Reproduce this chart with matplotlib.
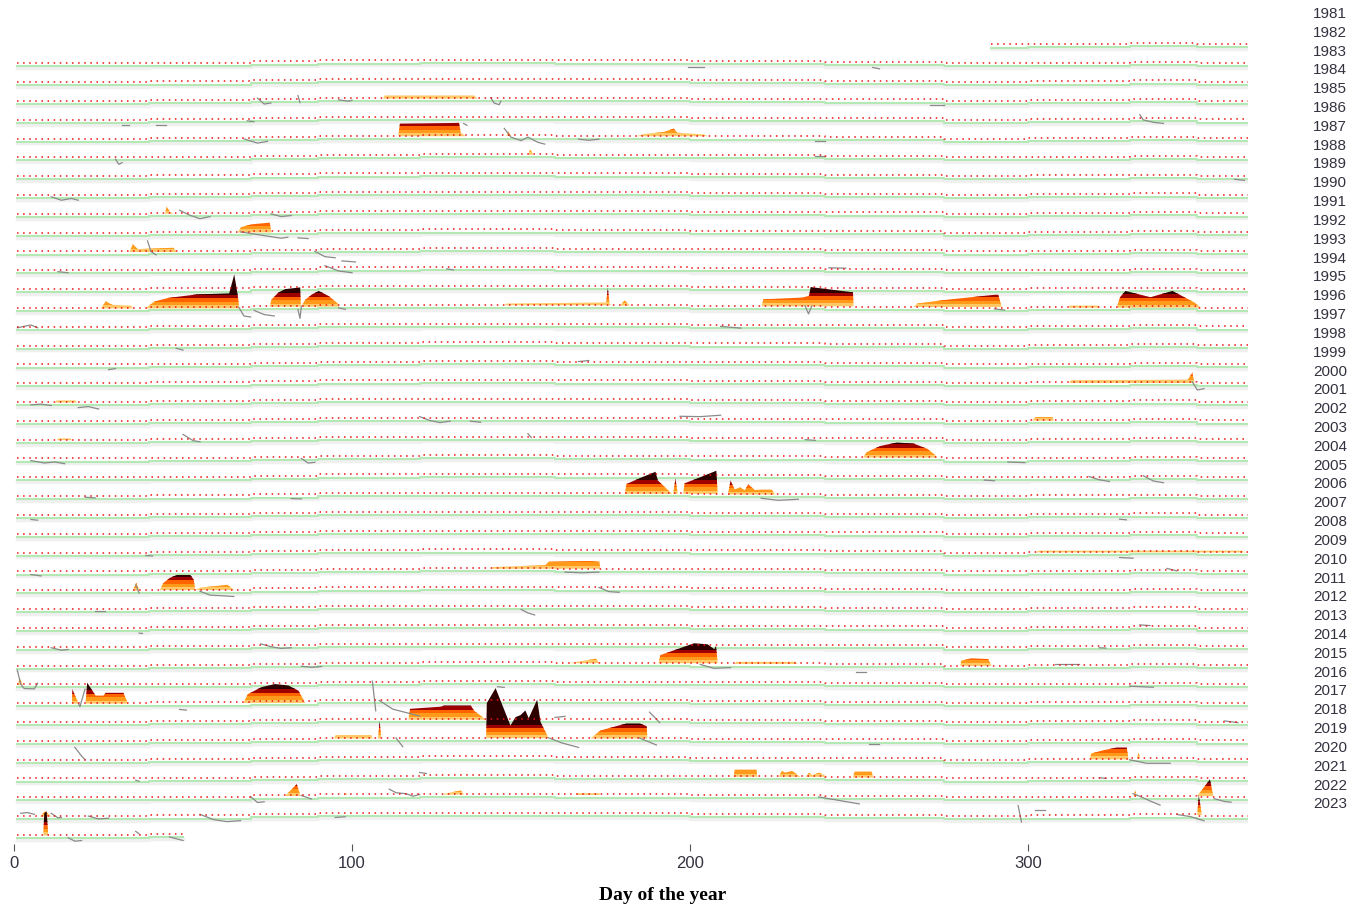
import numpy as np
import matplotlib.pyplot as plt
from matplotlib.patches import Rectangle

# Years shown, one row each (top = 1981)
YEARS = list(range(1981, 2024))
PARTIAL = {1981: (289, 365), 2023: (1, 50)}

# seasonal step profile of the threshold (deg above the row baseline)
PROF_DAY = [1, 40, 70, 90, 120, 160, 200, 240, 275, 300, 330, 350]
PROF_THR = [0.0, 0.2, 0.5, 0.8, 0.9, 0.8, 0.6, 0.4, 0.0, 0.2, 0.45, 0.1]
CLIM_GAP = 0.9

# heatwave events: year, [(day, anomaly above threshold)]
EVENTS = [
    (1984, [(109, 0), (109.5, 0.8), (136, 0.8), (137, 0)]),
    (1986, [(113.5, 0), (114, 3.6), (131.5, 3.8), (132, 1), (133.5, 0)]),
    (1986, [(184, 0), (186, 0.6), (192, 1.2), (195, 2.2), (196, 1), (204, 0.5), (205, 0)]),
    (1986, [(145.5, 0), (146, 1.3), (147, 0)]),
    (1987, [(152, 0), (152.5, 1.5), (153.5, 0)]),
    (1990, [(44.5, 0), (45, 2), (46, 0.5), (47, 0)]),
    (1991, [(66, 0), (67, 1.5), (70, 2.3), (75.5, 2.8), (76, 0)]),
    (1992, [(34, 0), (35, 2.2), (36.5, 0.8), (47, 1.2), (48, 0)]),
    (1995, [(25.5, 0), (27, 2), (29, 1), (34.5, 0.8), (35, 0)]),
    (1995, [(38.7, 0), (40, 1), (41.5, 2), (45.5, 3), (54, 4), (63.5, 4.3), (65, 9.7), (66, 4), (66.5, 0)]),
    (1995, [(75.5, 0), (76, 2), (77, 3), (78, 4), (80, 5), (84.5, 5.5), (84.7, 0)]),
    (1995, [(84.8, 0), (86, 2), (88, 3.5), (90, 4.5), (93, 3), (95.5, 1), (96, 0)]),
    (1995, [(145, 0), (145.5, 0.5), (175, 0.8), (175.5, 5), (176, 0.5), (176.5, 0)]),
    (1995, [(179, 0), (180.5, 1.5), (182, 0)]),
    (1995, [(221, 0), (221.5, 2), (233, 2.5), (235, 3), (235.5, 5.5), (248, 4), (248.2, 0)]),
    (1995, [(266, 0), (267, 1), (275, 2), (290, 3.5), (291, 3.5), (292, 0)]),
    (1995, [(311.8, 0), (312, 0.6), (320.6, 0.6), (321, 0)]),
    (1995, [(326, 0), (327, 3), (328.6, 4.8), (336, 3), (342.5, 4.8), (349, 1.5), (351, 0)]),
    (1999, [(312, 0), (312.5, 0.8), (347, 0.9), (348.4, 3), (349, 0)]),
    (2000, [(12, 0), (12.5, 0.6), (18, 0.6), (18.5, 0)]),
    (2001, [(301, 0), (302, 1), (307, 1), (307.5, 0)]),
    (2002, [(12.5, 0), (13, 0.5), (16.5, 0.5), (17, 0)]),
    (2003, [(251, 0), (252, 1.5), (256, 3.3), (261, 4.3), (266, 4), (270, 2.5), (272, 1), (273, 0)]),
    (2005, [(180.5, 0), (181, 2.8), (185, 4.5), (189.6, 6.3), (190.3, 3.8), (194.5, 0)]),
    (2005, [(194.8, 0), (195.5, 4.3), (196.2, 0)]),
    (2005, [(197.8, 0), (198.2, 3), (203, 4.8), (207.6, 6.6), (208, 0)]),
    (2005, [(211, 0), (211.8, 4), (213, 1.5), (214.7, 2), (216, 1.2), (217, 2.9), (219, 1.3),
            (221, 1.4), (224, 1.4), (225, 0)]),
    (2008, [(302, 0), (303, 0.5), (363, 0.5), (364, 0)]),
    (2009, [(141, 0), (141.5, 0.5), (157, 1), (158, 2), (170, 2.2), (173, 2), (173.3, 0)]),
    (2010, [(35, 0), (36, 2.3), (37, 0)]),
    (2010, [(43, 0), (44, 2), (46, 3.5), (48, 4.3), (52, 4.3), (53, 3), (53.5, 0)]),
    (2010, [(53.5, 0), (55, 0.7), (63, 1.5), (65, 0)]),
    (2014, [(190.5, 0), (191, 2.3), (196, 4), (201, 5.7), (205, 5.4), (207, 4), (207.5, 5), (208, 0)]),
    (2014, [(164, 0), (172, 1.3), (173, 0)]),
    (2014, [(213, 0), (213.5, 0.6), (231, 0.6), (231.6, 0)]),
    (2014, [(279.8, 0), (280, 1.5), (283, 2.2), (288, 2), (289, 0)]),
    (2015, [(1, 0), (1.5, 2), (2.5, 0)]),
    (2016, [(17, 0), (17.1, 4.1), (19, 0)]),
    (2016, [(21, 0), (21.5, 6), (24, 2.3), (26.3, 2.3), (27, 3.1), (32.2, 3.1), (33.6, 0)]),
    (2016, [(67.7, 0), (69, 2.5), (73, 4.5), (77, 5.4), (81, 5), (84, 3.5), (86, 0)]),
    (2017, [(116.5, 0), (117, 3.1), (126, 3.7), (127, 4), (135, 4), (136, 2.5), (139.5, 0)]),
    (2018, [(139.5, 0), (139.7, 10), (142.3, 14.3), (146.7, 3.6), (148.2, 6), (149.7, 6.6),
            (151.1, 7.9), (152.1, 5.7), (154.6, 11), (155.6, 4.6), (158, 0)]),
    (2018, [(94.5, 0), (95, 1), (105.5, 1), (106, 0)]),
    (2018, [(107.5, 0), (108, 5), (108.5, 0)]),
    (2018, [(170.4, 0), (173.3, 2.3), (176, 3), (181, 4.3), (185, 4.3), (187, 3.5), (187.2, 0)]),
    (2019, [(318, 0), (318.5, 1.7), (322, 2.6), (326, 3.4), (329, 3.4), (329.5, 0)]),
    (2019, [(332, 0), (332.5, 1.7), (333, 0)]),
    (2020, [(212.7, 0), (213, 2), (219.5, 2), (219.7, 0)]),
    (2020, [(226, 0), (227, 1.7), (228, 1.2), (230, 1.7), (232.5, 0)]),
    (2020, [(234, 0), (235, 1.2), (236, 0.5), (238, 1.2), (240.5, 0)]),
    (2020, [(248, 0), (248.5, 1.7), (253.5, 1.7), (254, 0)]),
    (2021, [(80, 0), (83.5, 3.4), (84.6, 0)]),
    (2021, [(97.5, 0), (98, 0.6), (98.5, 0)]),
    (2021, [(126, 0), (132, 1.2), (133, 0)]),
    (2021, [(166, 0), (166.5, 0.5), (173, 0.5), (173.3, 0)]),
    (2021, [(331, 0), (331.5, 1.7), (332, 0)]),
    (2021, [(349.8, 0), (353.6, 4.8), (354.6, 0)]),
    (2022, [(349.8, 0), (350.3, 5.7), (351.2, 0)]),
    (2022, [(7.5, 0), (9, 1.5), (11, 0)]),
    (2023, [(8.5, 0), (8.8, 6.3), (9.5, 6.9), (10, 0)]),
]

# stretches of the temperature line that leave the threshold/climatology lines
TEMP_BITS = [
    (1982, [(199.5, -1.9), (204, -1.9)]), (1982, [(254, -1.6), (256, -2)]),
    (1984, [(72, 0.3), (74, -1.4), (76, -1.1)]), (1984, [(84, 1), (84.6, -1)]),
    (1984, [(96, -0.5), (99, -0.9), (100, -0.6)]), (1984, [(141, 0), (142, -1.5), (143.5, -2), (144, -1)]),
    (1984, [(271, -1.5), (275, -1.5)]),
    (1985, [(333, 1), (334, -0.5), (337, -1.2), (340, -1.5)]), (1985, [(32, -1.5), (34, -1.5)]),
    (1985, [(42, -1.8), (45, -1.8)]), (1985, [(69, -0.5), (71, -0.8)]), (1985, [(133, -2), (134, -2.5)]),
    (1986, [(145, 2), (147, -0.5), (150, -1.5), (152, -0.5), (155, -2), (157, -2.5)]),
    (1986, [(68, -0.3), (72, -1.5), (75, -1)]), (1986, [(167, -1), (170, -1.3), (173, -1)]),
    (1986, [(237, -1.3), (240, -1.3)]),
    (1987, [(30, -0.5), (31, -2), (32, -1.5)]), (1987, [(237, -0.3), (240, -0.3)]),
    (1988, [(361, -1), (364, -1.3)]),
    (1989, [(11, -0.5), (14, -1.5), (17, -1), (19, -1.5)]),
    (1990, [(49, 0.8), (52, -0.6), (55, -1.6), (58, -1)]), (1990, [(76, -0.5), (79, -1.3), (82, -1)]),
    (1991, [(67, 0), (71, -0.6), (75, -1.2), (79, -1.8), (81, -1.5)]), (1991, [(84, -2), (87, -2.2)]),
    (1992, [(39.5, 3), (40.5, 0), (42, -1)]), (1992, [(89, -0.5), (92, -2), (95, -2.3)]),
    (1992, [(97, -3.5), (101, -3.8)]),
    (1993, [(13, -0.4), (16, -0.7)]), (1993, [(92, 0.5), (96, -1), (100, -1.5)]),
    (1993, [(128, -0.5), (130, -0.8)]), (1993, [(241, 0.3), (246, 0.2)]),
    (1995, [(66.5, 0), (68, -2.5), (70, -2.8)]), (1995, [(71, -1.2), (74, -2.4), (77, -2.8)]),
    (1995, [(84, -1), (84.6, -3.5), (85, 0)]), (1995, [(96, -0.8), (98, -1.2)]),
    (1995, [(234, 0), (235, -2.3), (236, 0)]), (1995, [(290, -0.3), (293, -0.6)]),
    (1996, [(1, -0.3), (5, 0.5), (7, -0.3)]), (1996, [(209, -0.5), (215, -1)]),
    (1997, [(48, -1), (50, -1.5)]),
    (1998, [(28, -1.5), (30, -1.2)]), (1998, [(167, 0), (170, 0.3)]),
    (1999, [(348.5, 0), (350, -2.4), (352, -2)]),
    (2000, [(5, -0.8), (8, -0.6), (11, -1)]), (2000, [(19, -1.6), (22, -1.3), (25, -2)]),
    (2001, [(120, 0.3), (123, -0.8), (126, -1.4), (129, -1)]), (2001, [(135, -1), (138, -1.3)]),
    (2001, [(197, 0.5), (203, 0.4), (209, 0.8)]),
    (2002, [(50, 1.3), (53, -0.5), (55, -0.8)]), (2002, [(152, 0.8), (153, -0.3)]),
    (2002, [(234, -0.6), (237, -0.8)]),
    (2003, [(5, -0.6), (9, -1.3), (12, -1), (15, -1.5)]), (2003, [(85, -0.5), (87, -1.8), (89, -1.6)]),
    (2003, [(294, -1), (299, -1.2)]),
    (2004, [(287, -0.8), (290, -1)]), (2004, [(318, 0), (321, -0.9), (324, -1.4)]),
    (2004, [(334, 0), (337, -1.5), (340, -2)]),
    (2005, [(21, -0.3), (24, -0.5)]), (2005, [(82, -1.2), (85, -1.3)]),
    (2005, [(221, -1.2), (226, -1.8), (232, -1.5)]),
    (2006, [(5, -1.3), (7, -1.5)]), (2006, [(327, -1.4), (329, -1.6)]),
    (2008, [(39, -0.8), (41, -1)]), (2008, [(327, -1.6), (331, -1.8)]),
    (2009, [(5, -0.9), (8, -1.3)]), (2009, [(163, -1), (168, -1.2), (173, -1)]),
    (2009, [(341, 0.4), (344, -0.3)]),
    (2010, [(36, 1.5), (37, -0.8)]), (2010, [(55, -0.5), (58, -1.6), (62, -1.8), (65, -2)]),
    (2010, [(173, 0), (176, -1.2), (179, -1.4)]),
    (2011, [(24, -0.6), (27, -0.6)]), (2011, [(150, -1), (152, -2), (154, -2.6)]),
    (2012, [(37, -1.5), (38, -1.6)]), (2012, [(333, 0.4), (336, 0.2)]),
    (2013, [(11, -0.3), (14, -1), (16, -0.8)]), (2013, [(73, 0.3), (76, -0.5), (79, -1), (82, -0.8)]),
    (2013, [(321, -0.5), (323, -0.6)]),
    (2014, [(85, -0.7), (88, -1), (91, -0.8)]), (2014, [(203, -0.3), (207, -1.4), (212, -1.2)]),
    (2014, [(308, 0.2), (315, 0.2)]),
    (2015, [(1, 4), (2, 0), (3, -1.2), (6, -1.3), (7, 0.3)]), (2015, [(249, 3.2), (252, 3.2)]),
    (2015, [(330, -1), (337, -1.3)]),
    (2016, [(19, 0), (19.5, -1), (21, 4)]), (2016, [(49, -2), (51, -2.2)]),
    (2016, [(106, 5.5), (107, -3)]), (2016, [(108, 0), (112, -2.5), (116, -3.5), (120, -4.5)]),
    (2016, [(143, 3.8), (145, 3.6)]),
    (2017, [(160, 0.5), (163, 0.8)]), (2017, [(188, 2), (191, -1)]), (2017, [(358, 0.2), (362, -0.3)]),
    (2018, [(113, 0), (115, -2.5)]), (2018, [(158, 0), (162, -1.5), (167, -2.8)]),
    (2018, [(185, 0), (190, -2)]), (2018, [(253, -1.2), (256, -1.2)]),
    (2019, [(18, 3.5), (20, 1), (21, 0)]), (2019, [(330, -0.5), (335, -1.5), (342, -1.5)]),
    (2020, [(36, -0.5), (37, -0.8)]), (2020, [(120, 0.8), (122, 0.5)]), (2020, [(321, 0), (323, -0.2)]),
    (2021, [(70, -0.3), (72, -2), (74, -1.8)]), (2021, [(85, 0), (88, -1)]),
    (2021, [(111, 1.5), (113, 0.5), (116, 0.2), (118, -0.5), (120, 0)]),
    (2021, [(238, -0.5), (244, -1.5), (250, -2.5)]),
    (2021, [(331, 0.6), (334, -0.6), (336, -1.5), (339, -2.7)]),
    (2021, [(355, -0.5), (358, -1.3), (360, -1.5)]),
    (2022, [(2, 0.8), (4, 1), (6, 0.5)]), (2022, [(11, 0.8), (13, -0.5), (14, -0.4)]),
    (2022, [(22, 0), (25, -0.8), (28, -0.6)]), (2022, [(55, 0.3), (59, -1.2), (63, -1.8), (67, -1.5)]),
    (2022, [(95, -1.2), (98, -1)]), (2022, [(297, 3), (298, -1.7)]), (2022, [(302, 1.5), (305, 1.5)]),
    (2022, [(344, 0), (348, -0.6), (352, -1.8)]),
    (2023, [(16, -0.8), (18, -1.8), (20, -1.6)]), (2023, [(36, 1), (37, 0.3)]),
    (2023, [(46, -0.8), (50, -1.8)]),
]

XTICKS = [0, 100, 200, 300]
CAT_COLORS = ['#ffc866', '#ff9a1a', '#ff6400', '#9e0000', '#2d0000']

UNIT = 3.5 / 18.82   # one degree in row heights
NARROW = ['Liberation Sans Narrow', 'Liberation Sans', 'DejaVu Sans']


def row_y(year):
    return YEARS[-1] - year


def thr_at(d):
    i = np.searchsorted(PROF_DAY, d, side='right') - 1
    return PROF_THR[max(i, 0)]


fig = plt.figure(figsize=(13.55, 9.07), dpi=100)
ax = fig.add_axes([14 / 1355, 1 - 844 / 907, 1234 / 1355, 844 / 907])
ax.set_xlim(0, 365)
ax.set_ylim(-0.484, 44.36)

# threshold (red dots) and climatology (green) for every year
for year in YEARS:
    start, end = PARTIAL.get(year, (1, 365))
    xs = [start] + [k for k in PROF_DAY if start < k < end] + [end]
    ys = np.array([thr_at(x) for x in xs]) * UNIT + row_y(year)
    ax.plot(xs, ys - 1.4 * UNIT, color='#f0f0f0', lw=2.5, drawstyle='steps-post', zorder=1)
    ax.plot(xs, ys - CLIM_GAP * UNIT, color='#b4e8b4', lw=1.5, drawstyle='steps-post', zorder=2)
    ax.plot(xs, ys, color='#ee1111', lw=1.1, ls=(0, (1, 3)), drawstyle='steps-post', zorder=5)

# temperature stretches
for year, pts in TEMP_BITS:
    d = [p[0] for p in pts]
    base = row_y(year) + thr_at(d[0]) * UNIT
    ax.plot(d, [base + p[1] * UNIT for p in pts], color='#8a8a8a', lw=0.9, zorder=4)

# heatwave events, coloured by category bands
for year, pts in EVENTS:
    d = np.array([p[0] for p in pts])
    a = np.array([p[1] for p in pts])
    base = row_y(year) + thr_at(d[0]) * UNIT
    for k, col in enumerate(CAT_COLORS):
        lo = base + k * UNIT
        hi = lo + UNIT if k < len(CAT_COLORS) - 1 else lo + 10
        poly = ax.fill_between(d, base, base + a * UNIT, color=col, lw=0, zorder=3)
        poly.set_clip_path(Rectangle((0, lo), 366, hi - lo, transform=ax.transData))

# year labels on the right
for year in YEARS:
    ax.text(389.2, row_y(year) + 1.62, str(year), ha='center', va='center', fontsize=11,
            family=NARROW, color='#333340', clip_on=False)

for s in ax.spines.values():
    s.set_visible(False)
ax.set_yticks([])
ax.set_xticks(XTICKS)
ax.set_xticklabels([str(t) for t in XTICKS], family=NARROW)
ax.tick_params(axis='x', length=5, width=0.8, color='#555555', labelsize=12,
               labelcolor='#333340', pad=4)

fig.text(663 / 1355, 1 - 895 / 907, 'Day of the year', ha='center', va='center',
         fontsize=14, fontweight='bold', family=['Liberation Serif', 'DejaVu Serif'])

plt.savefig('out.png', dpi=100)
